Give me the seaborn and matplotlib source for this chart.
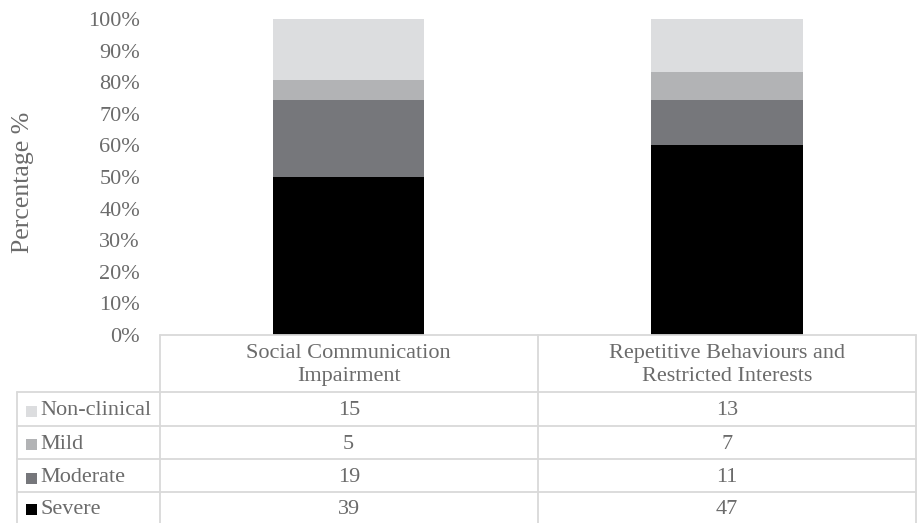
import matplotlib
matplotlib.use("Agg")
import matplotlib.pyplot as plt
import seaborn as sns
import pandas as pd
import numpy as np
from matplotlib.lines import Line2D
from matplotlib.patches import Rectangle

# ---- data ----
categories = ["Social Communication\nImpairment", "Repetitive Behaviours and\nRestricted Interests"]
series = ["Non-clinical", "Mild", "Moderate", "Severe"]
non_clinical = [15, 13]
mild = [5, 7]
moderate = [19, 11]
severe = [39, 47]
colors = {"Non-clinical": "#DCDDDF", "Mild": "#B2B3B5", "Moderate": "#76777B", "Severe": "#000000"}
yticks = [0, 10, 20, 30, 40, 50, 60, 70, 80, 90, 100]

sns.set_theme(style="white")
plt.rcParams["font.family"] = ["Liberation Serif", "DejaVu Serif"]
TXT = "#6B6B6B"
GRID = "#D9D9D9"
FS = 16

W, H = 917, 523
fig = plt.figure(figsize=(W / 100, H / 100), dpi=100)

def fx(px):
    return px / W

def fy(py):
    return 1 - py / H

x0, x1 = 159.5, 916.0
ytop, ybot = 19.0, 335.0
ax = fig.add_axes([fx(x0), fy(ybot), fx(x1) - fx(x0), (ybot - ytop) / H])

vals = {"Non-clinical": np.array(non_clinical), "Mild": np.array(mild),
        "Moderate": np.array(moderate), "Severe": np.array(severe)}
total = sum(vals.values()).astype(float)
# stacking order bottom->top: Severe, Moderate, Mild, Non-clinical
stack_order = ["Severe", "Moderate", "Mild", "Non-clinical"]
cum = {}
running = np.zeros(len(categories))
for s in stack_order:
    running = running + vals[s] / total * 100
    cum[s] = running.copy()

# draw tallest first (layered)
for s in reversed(stack_order):
    df = pd.DataFrame({"cat": categories, "pct": cum[s]})
    sns.barplot(data=df, x="cat", y="pct", color=colors[s], width=0.4,
                saturation=1, linewidth=0, ax=ax, order=categories)

ax.set_xlim(-0.5, 1.5)
ax.set_ylim(0, 100)
ax.set_yticks(yticks)
ax.set_yticklabels([f"{t}%" for t in yticks], fontsize=FS, color=TXT)
ax.tick_params(axis="y", length=0, pad=14)
ax.set_xticks([])
ax.set_xlabel("")
ax.set_ylabel("")
for sp in ax.spines.values():
    sp.set_visible(False)
ax.patch.set_alpha(0)

fig.text(fx(23), fy(182), "Percentage %", rotation=90, ha="center", va="center",
         fontsize=18.5, color=TXT)

# ---- data table ----
def hline(y, xa, xb):
    fig.add_artist(Line2D([fx(xa), fx(xb)], [fy(y), fy(y)], color=GRID, lw=1.3,
                          transform=fig.transFigure))

def vline(x, ya, yb):
    fig.add_artist(Line2D([fx(x), fx(x)], [fy(ya), fy(yb)], color=GRID, lw=1.3,
                          transform=fig.transFigure))

lab_x0 = 17.0
row_edges = [392.0, 425.5, 459.0, 492.3, 525.0]
colmid = 538.0
hline(335.0, x0, x1)
for y in row_edges[:-1]:
    hline(y, lab_x0, x1)
vline(x0, 335.0, H)
vline(colmid, 335.0, H)
vline(x1, 335.0, H)
vline(lab_x0, 392.0, H)

col_centers = [(x0 + colmid) / 2, (colmid + x1) / 2]
for c, cx in zip(categories, col_centers):
    fig.text(fx(cx), fy(365), c, ha="center", va="center", fontsize=FS,
             color=TXT, linespacing=1.3)

for i, s in enumerate(series):
    yc = (row_edges[i] + row_edges[i + 1]) / 2 + 2
    if i == len(series) - 1:
        yc = 509.0
    fig.add_artist(Rectangle((fx(26), fy(yc + 6)), fx(11), 11 / H,
                             facecolor=colors[s], edgecolor="none",
                             transform=fig.transFigure))
    fig.text(fx(40.5), fy(yc), s, ha="left", va="center", fontsize=FS, color=TXT)
    for j, cx in enumerate(col_centers):
        fig.text(fx(cx), fy(yc), str(vals[s][j]), ha="center", va="center",
                 fontsize=FS, color=TXT)

fig.savefig("out.png", dpi=100)
